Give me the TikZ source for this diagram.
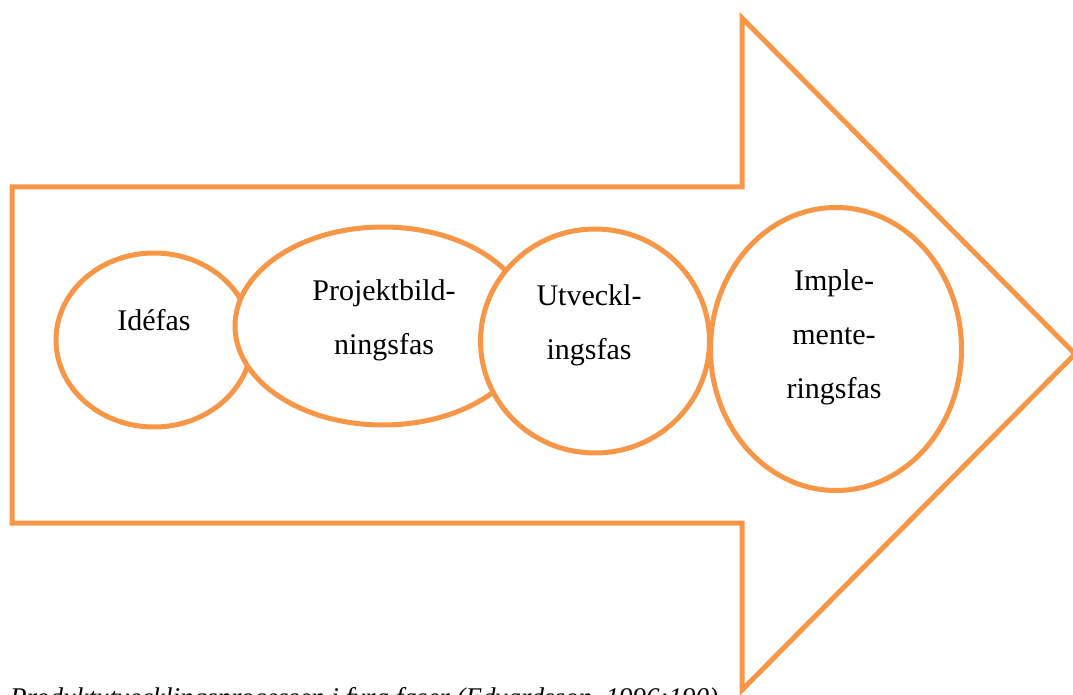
\documentclass[tikz,border=0pt]{standalone}
\usepackage{fontspec}
\setmainfont{Liberation Serif}
\usepackage{xcolor}
\usepackage{tikz}
\usetikzlibrary{shapes.geometric}

\definecolor{phaseorange}{HTML}{F79646}

\begin{document}
\begin{tikzpicture}[
x=1pt, y=-1pt,
every node/.style={font=\fontsize{30}{54}\selectfont},
phasenode/.style={ellipse, draw=phaseorange, line width=5pt, fill=white, inner sep=0pt},
textnode/.style={align=center, inner sep=0pt},
captionnode/.style={anchor=base west, inner sep=0pt, font=\fontsize{27}{32}\selectfont\itshape},
arrowline/.style={draw=phaseorange, line width=5pt, line join=miter}
]
\useasboundingbox (0,0) rectangle (1073,695);

% big arrow
\draw[arrowline] (12,187) -- (742,187) -- (742,18) -- (1075,354) -- (742,690) -- (742,523) -- (12,523) -- cycle;

\node[captionnode] (caption) at (10,706) {Produktutvecklingsprocessen i fyra faser (Edvardsson, 1996:190)};

% phases
\node[phasenode, minimum width=196pt, minimum height=174pt] (idea) at (154,340) {};
\node[phasenode, minimum width=296pt, minimum height=198pt] (project) at (383,326) {};
\node[phasenode, minimum width=229pt, minimum height=224pt] (develop) at (595,341) {};
\node[phasenode, minimum width=251pt, minimum height=283pt] (implement) at (836,349) {};

\node[textnode] (ideatext) at (154,320) {Idéfas};
\node[textnode] (projecttext) at (384,320) {Projektbild-\\ningsfas};
\node[textnode] (developtext) at (589,325) {Utveckl-\\ingsfas};
\node[textnode] (implementtext) at (834,337) {Imple-\\mente-\\ringsfas};

\end{tikzpicture}
\end{document}
